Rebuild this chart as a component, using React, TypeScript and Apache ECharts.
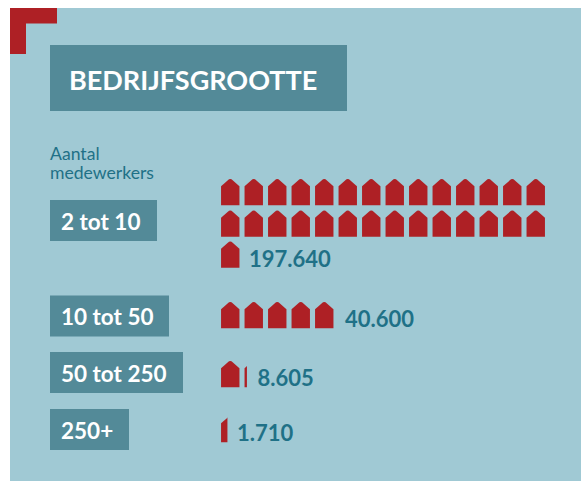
import React, { useEffect, useRef } from "react";
import * as echarts from "echarts";

const categories = ["2 tot 10", "10 tot 50", "50 tot 250", "250+"];
const valueLabels = ["197.640", "40.600", "8.605", "1.710"];
// houses drawn per row; the first category wraps over three rows
const rowHouses = [14, 14, 1, 5, 1.21, 0.38];
const rowLabels = ["", "", valueLabels[0], valueLabels[1], valueLabels[2], valueLabels[3]];
const rowLabelShift = [0, 0, 7, 9, -8, -5];
const rowTops = [179, 210.5, 241.5, 302, 361, 416];

const title = "BEDRIJFSGROOTTE";
const subtitle = ["Aantal", "medewerkers"];

const FONT = "Lato";
const PANEL = "#a0c9d4";
const BOX = "#538a98";
const RED = "#ae2025";
const TEAL = "#1f7187";
const HOUSE =
  "path://M0 7.2L8 0.3Q9.25 -0.3 10.5 0.3L18.5 7.2L18.5 26.3L0 26.3Z";

const boxes = [
  { x: 50, y: 200, w: 107, h: 41 },
  { x: 50, y: 295.5, w: 119, h: 41 },
  { x: 50, y: 352, w: 133, h: 41 },
  { x: 50, y: 409, w: 79, h: 41 },
];

export default function App() {
  const ref = useRef<HTMLDivElement>(null);
  useEffect(() => {
    const chart = echarts.init(ref.current!, null, { renderer: "svg" });
    const grids = rowTops.map((top) => ({
      left: 218.5,
      top,
      width: 329,
      height: 26.3,
      containLabel: false,
    }));
    chart.setOption({
      animation: false,
      backgroundColor: "#ffffff",
      grid: grids,
      xAxis: rowHouses.map((_, i) => ({
        gridIndex: i,
        type: "value",
        min: 0,
        max: 14,
        show: false,
      })),
      yAxis: rowHouses.map((_, i) => ({
        gridIndex: i,
        type: "category",
        data: [i],
        show: false,
      })),
      series: rowHouses.map((v, i) => ({
        type: "pictorialBar",
        xAxisIndex: i,
        yAxisIndex: i,
        symbol: HOUSE,
        symbolSize: [18.5, 26.3],
        symbolRepeat: true,
        symbolMargin: "2.5!",
        symbolClip: true,
        symbolPosition: "start",
        itemStyle: { color: RED },
        label: {
          show: rowLabels[i] !== "",
          position: "right",
          distance: 0,
          offset: [rowLabelShift[i], 3.5],
          formatter: rowLabels[i],
          fontFamily: FONT,
          fontSize: 22,
          fontWeight: 700,
          color: TEAL,
        },
        data: [v],
      })),
      graphic: [
        { type: "rect", silent: true, z: -10, shape: { x: 10, y: 8, width: 571, height: 473 }, style: { fill: PANEL } },
        { type: "rect", silent: true, z: -9, shape: { x: 10, y: 8, width: 47, height: 15.5 }, style: { fill: RED } },
        { type: "rect", silent: true, z: -9, shape: { x: 10, y: 8, width: 16, height: 46 }, style: { fill: RED } },
        { type: "rect", silent: true, z: -9, shape: { x: 50, y: 45, width: 297, height: 66 }, style: { fill: BOX } },
        {
          type: "text",
          silent: true,
          x: 69,
          y: 79,
          style: { text: title, fill: "#ffffff", font: `700 27px ${FONT}`, textVerticalAlign: "middle" },
        },
        {
          type: "text",
          silent: true,
          x: 50,
          y: 153.5,
          style: { text: subtitle[0], fill: TEAL, font: `400 17.6px ${FONT}`, textVerticalAlign: "middle" },
        },
        {
          type: "text",
          silent: true,
          x: 50,
          y: 172.5,
          style: { text: subtitle[1], fill: TEAL, font: `400 17.6px ${FONT}`, textVerticalAlign: "middle" },
        },
        ...boxes.map((b) => ({
          type: "rect",
          silent: true,
          z: -9,
          shape: { x: b.x, y: b.y, width: b.w, height: b.h },
          style: { fill: BOX },
        })),
        ...boxes.map((b, i) => ({
          type: "text",
          silent: true,
          x: b.x + 11,
          y: b.y + 21,
          style: { text: categories[i], fill: "#ffffff", font: `700 22.5px ${FONT}`, textVerticalAlign: "middle" },
        })),
      ],
    });
    return () => chart.dispose();
  }, []);
  return (
    <div
      ref={ref}
      style={{ position: "fixed", left: 0, top: 0, width: 587, height: 481 }}
    />
  );
}
